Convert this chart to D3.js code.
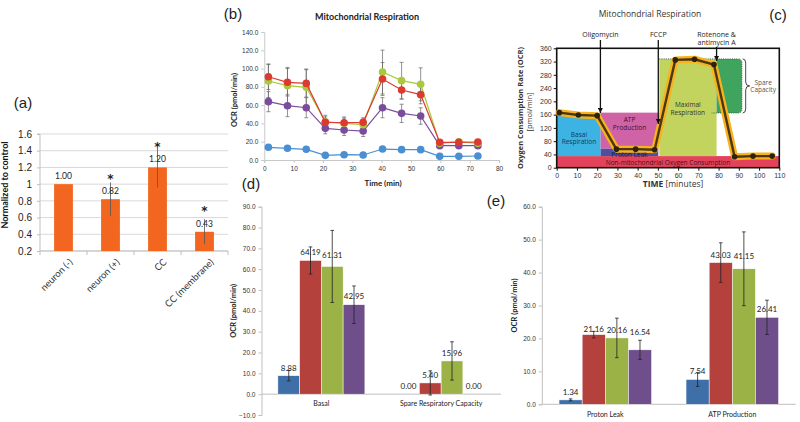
<!DOCTYPE html>
<html><head><meta charset="utf-8">
<script src="https://cdn.jsdelivr.net/npm/d3@7"></script>
<style>
body{margin:0;background:#fff;}
svg{display:block;font-family:Lato,"Liberation Sans",sans-serif;}
</style></head><body>
<svg id="chart" width="800" height="422"></svg>
<script>
// ---------------- Panel (a) data
const aCategories = ["neuron (-)", "neuron (+)", "CC", "CC (membrane)"];
const aValues = [1.00, 0.82, 1.20, 0.43];
const aErrors = [0, 0.20, 0.24, 0.15];
const aStars = ["", "*", "*", "*"];
const aTicks = [0.2, 0.4, 0.6, 0.8, 1, 1.2, 1.4, 1.6];

// ---------------- Panel (b) data
const bTimes = [1.4, 7.9, 14.3, 20.8, 27.2, 33.7, 40.3, 46.8, 53.3, 59.8, 66.3, 72.8];
const bBlue   = [13.9, 12.8, 11.7, 5.1, 5.8, 5.5, 12.0, 11.3, 11.3, 4.0, 4.0, 4.4];
const bPurple = [63.8, 59.4, 57.2, 34.6, 32.8, 31.7, 57.2, 51.0, 48.1, 15.7, 15.7, 15.7];
const bGreen  = [86.4, 81.3, 79.5, 41.9, 40.1, 38.6, 96.2, 86.8, 82.8, 18.2, 20.0, 18.2];
const bRed    = [91.1, 85.0, 83.8, 41.2, 40.8, 41.2, 88.6, 76.6, 71.5, 19.3, 19.3, 19.7];
const bBlueErr   = [2, 2, 2, 1, 1, 1, 2, 2, 2, 1, 1, 1];
const bPurpleErr = [11, 12, 11, 6, 6, 6, 11, 10, 9, 2, 2, 2];
const bGreenErr  = [18, 20, 20, 7, 7, 6, 24, 20, 18, 2, 2, 2];
const bRedErr    = [14, 15, 15, 6, 5, 5, 18, 10, 10, 2, 2, 2];
const bYTicks = [0, 20, 40, 60, 80, 100, 120, 140];
const bXTicks = [0, 10, 20, 30, 40, 50, 60, 70, 80];

// ---------------- Panel (c) data
const cTimes = [1.3, 10.7, 20, 29.5, 39, 48.4, 58.6, 68.1, 77.7, 87.9, 97, 106.5];
const cOCR   = [166, 159, 157, 56, 56, 54, 325, 327, 311, 33, 35, 35];
const cInjectionNames = [["Oligomycin"], ["FCCP"], ["Rotenone &", "antimycin A"]];
const cInjectionTimes = [21.6, 50.2, 79];
const cInjectionTips  = [165, 132, 322];
const cRegionNames = ["Non-mitochondrial Oxygen Consumption", "Basal Respiration", "ATP Production", "Proton Leak", "Maximal Respiration", "Spare Capacity"];
const cRegionT0 = [0, 0, 21.7, 21.7, 50.7, 79];
const cRegionT1 = [110, 21.7, 50.2, 50.2, 79, 91.5];
const cRegionV0 = [0, 35, 57, 35, 35, 165];
const cRegionV1 = [35, 165, 166, 57, 328, 328];
const cYTicks = [0, 40, 80, 120, 160, 200, 240, 280, 320, 360];
const cXTicks = [0, 10, 20, 30, 40, 50, 60, 70, 80, 90, 100, 110];

// ---------------- Panel (d) data
const dCategories = ["Basal", "Spare Respiratory Capacity"];
const dBlue = [8.88, 0.00], dRed = [64.19, 5.40], dGreen = [61.31, 15.96], dPurple = [42.95, 0.00];
const dBlueErr = [2.5, 0], dRedErr = [6.5, 5.8], dGreenErr = [17.3, 9.2], dPurpleErr = [9, 0];
const dYTicks = [-10, 0, 10, 20, 30, 40, 50, 60, 70, 80, 90];

// ---------------- Panel (e) data
const eCategories = ["Proton Leak", "ATP Production"];
const eBlue = [1.34, 7.54], eRed = [21.16, 43.03], eGreen = [20.16, 41.15], ePurple = [16.54, 26.41];
const eBlueErr = [0.3, 2.1], eRedErr = [1.0, 6.0], eGreenErr = [6.0, 11.2], ePurpleErr = [2.9, 5.2];
const eYTicks = [0, 10, 20, 30, 40, 50, 60];

// ---------------- styles / layout
const lineColors = {blue: "#4a8fd2", purple: "#7b4c9b", green: "#a9c93a", red: "#dc3a31"};
const barColors = ["#3e6fa8", "#b5413d", "#9bb246", "#6f4e8c"];
const cRegionColors = ["#e3425a", "#3db3e4", "#d063a6", "#4d4f9f", "#c2d35e", "#3fa45e"];
const dLabelLift = [[0, 0], [0, 0], [3, 0], [1, 0]];
const eLabelLift = [[0, 0], [-2, 0], [0, 5], [10, 0]];

const svg = d3.select("#chart");
const CFONT = "'Open Sans', 'DejaVu Sans', sans-serif";

function styleAxis(g, color, fs, tcol) {
  g.selectAll(".domain").attr("stroke", color);
  g.selectAll(".tick line").attr("stroke", color);
  g.selectAll(".tick text").attr("font-size", fs).attr("fill", tcol || "#333");
}

// panel letters
[["(a)", 23, 108], ["(b)", 233, 19], ["(c)", 778, 20], ["(d)", 251, 189], ["(e)", 496, 206]].forEach(([t, x, y]) => {
  svg.append("text").attr("x", x).attr("y", y).attr("text-anchor", "middle")
    .attr("font-family", "'Liberation Sans', Arial, sans-serif").attr("font-size", 15).attr("fill", "#222").text(t);
});

// ================= Panel (a)
{
  const g = svg.append("g");
  const x = d3.scaleBand().domain(aCategories).range([40, 228]);
  const y = d3.scaleLinear().domain([0.2, 1.6]).range([251, 134]);
  g.selectAll("line.grid").data(aTicks).join("line").attr("class", "grid")
    .attr("x1", 40).attr("x2", 228).attr("y1", d => y(d)).attr("y2", d => y(d)).attr("stroke", "#d9d9d9");
  const ay = g.append("g").attr("transform", "translate(40,0)")
    .call(d3.axisLeft(y).tickValues(aTicks).tickSize(3).tickPadding(5).tickFormat(d => String(+d.toFixed(1))));
  styleAxis(ay, "#bfbfbf", 10, "#222");
  ay.selectAll(".domain").attr("d", `M-3,${y(1.6)}H0V${y(0.2)}`);
  g.append("line").attr("x1", 40).attr("x2", 228).attr("y1", 251).attr("y2", 251).attr("stroke", "#bfbfbf");
  const edges = aCategories.map(c => x(c)).concat([x.range()[1]]);
  g.selectAll("line.xt").data(edges).join("line").attr("class", "xt")
    .attr("x1", d => d).attr("x2", d => d).attr("y1", 251).attr("y2", 255).attr("stroke", "#bfbfbf");
  const bw = x.bandwidth() * 0.4;
  aCategories.forEach((c, i) => {
    const cx = x(c) + x.bandwidth() / 2;
    g.append("rect").attr("x", cx - bw / 2).attr("width", bw).attr("y", y(aValues[i]))
      .attr("height", y(0.2) - y(aValues[i])).attr("fill", "#f2661f");
    if (aErrors[i] > 0) {
      g.append("line").attr("x1", cx).attr("x2", cx).attr("y1", y(aValues[i] + aErrors[i]))
        .attr("y2", y(aValues[i] - aErrors[i])).attr("stroke", "#555").attr("stroke-width", 0.8);
    }
    g.append("text").attr("x", cx).attr("y", y(aValues[i]) - 5).attr("text-anchor", "middle")
      .attr("font-size", 8.5).attr("fill", "#222").text(aValues[i].toFixed(2));
    if (aStars[i]) {
      g.append("text").attr("x", cx).attr("y", y(aValues[i]) - 16.5).attr("text-anchor", "middle")
        .attr("font-family", "'DejaVu Sans', sans-serif")
        .attr("font-size", 12).attr("font-weight", "bold").attr("fill", "#222").text(aStars[i]);
    }
    g.append("text").attr("transform", `translate(${cx + 5},${258}) rotate(-45)`).attr("text-anchor", "end")
      .attr("dy", "0.7em").attr("font-size", 9.5).attr("fill", "#333").text(c);
  });
  g.append("text").attr("transform", `translate(8,${185}) rotate(-90)`).attr("text-anchor", "middle")
    .attr("font-size", 9).attr("font-weight", "bold").attr("fill", "#111").text("Normalized to control");
}

// ================= Panel (b)
{
  const g = svg.append("g");
  const x = d3.scaleLinear().domain([0, 80]).range([264.3, 499]);
  const y = d3.scaleLinear().domain([0, 140]).range([160, 32]);
  const ay = g.append("g").attr("transform", "translate(264.3,0)")
    .call(d3.axisLeft(y).tickValues(bYTicks).tickSize(3).tickPadding(3).tickFormat(d3.format(".1f")));
  styleAxis(ay, "#c8c8c8", 6.5, "#333");
  const ax = g.append("g").attr("transform", "translate(0,160)")
    .call(d3.axisBottom(x).tickValues(bXTicks).tickSize(3).tickPadding(3));
  styleAxis(ax, "#c8c8c8", 6.5, "#333");
  const series = [[bBlue, bBlueErr, lineColors.blue], [bPurple, bPurpleErr, lineColors.purple],
                  [bGreen, bGreenErr, lineColors.green], [bRed, bRedErr, lineColors.red]];
  series.forEach(([vals, errs]) => {
    vals.forEach((v, i) => {
      const cx = x(bTimes[i]);
      g.append("path").attr("d", `M${cx},${y(v + errs[i])}V${y(v - errs[i])}M${cx - 2},${y(v + errs[i])}h4M${cx - 2},${y(v - errs[i])}h4`)
        .attr("stroke", "#666").attr("stroke-width", 0.7).attr("fill", "none");
    });
  });
  const line = d3.line().x((d, i) => x(bTimes[i])).y(d => y(d));
  series.forEach(([vals, errs, col]) => {
    g.append("path").datum(vals).attr("d", line).attr("fill", "none").attr("stroke", col).attr("stroke-width", 1.2);
    g.selectAll(null).data(vals).join("circle").attr("cx", (d, i) => x(bTimes[i])).attr("cy", d => y(d))
      .attr("r", 3.8).attr("fill", col);
  });
  g.append("text").attr("x", 367).attr("y", 20).attr("text-anchor", "middle").attr("font-size", 9)
    .attr("font-weight", "bold").attr("fill", "#222").text("Mitochondrial Respiration");
  g.append("text").attr("x", 383).attr("y", 186).attr("text-anchor", "middle").attr("font-size", 8)
    .attr("font-weight", "bold").attr("fill", "#222").text("Time (min)");
  g.append("text").attr("transform", `translate(237,100) rotate(-90)`).attr("text-anchor", "middle")
    .attr("font-size", 7.5).attr("font-weight", "bold").attr("fill", "#222").text("OCR (pmol/min)");
}

// ================= Panel (c)
{
  const g = svg.append("g").attr("font-family", CFONT);
  const x = d3.scaleLinear().domain([0, 110]).range([556.7, 779.3]);
  const y = d3.scaleLinear().domain([0, 360]).range([167.7, 48.3]);
  const defs = svg.append("defs");
  defs.append("marker").attr("id", "arrowC").attr("viewBox", "0 0 10 10").attr("refX", 10).attr("refY", 5)
    .attr("markerWidth", 4).attr("markerHeight", 4).attr("orient", "auto")
    .append("path").attr("d", "M0,0L10,5L0,10Z").attr("fill", "#111");
  cRegionNames.forEach((n, i) => {
    if (i === 5) return;
    g.append("rect").attr("x", x(cRegionT0[i])).attr("width", x(cRegionT1[i]) - x(cRegionT0[i]))
      .attr("y", y(cRegionV1[i])).attr("height", y(cRegionV0[i]) - y(cRegionV1[i])).attr("fill", cRegionColors[i]);
  });
  {
    const x0 = x(cRegionT0[5]), x1 = x(cRegionT1[5]), yt = y(cRegionV1[5]), yb = y(cRegionV0[5]), r = 4;
    g.append("path").attr("d", `M${x0},${yt}H${x1 - r}Q${x1},${yt} ${x1},${yt + r}V${yb - r}Q${x1},${yb} ${x1 - r},${yb}H${x0}Z`)
      .attr("fill", cRegionColors[5]);
    g.append("path").attr("d", `M${x(cRegionT0[4])},${yt}H${x1 - r}Q${x1},${yt} ${x1},${yt + r}V${yb - r}Q${x1},${yb} ${x1 - r},${yb}H${x(76.6)}`)
      .attr("fill", "none").attr("stroke", "#2d5a35").attr("stroke-width", 0.9).attr("stroke-dasharray", "1,1.2");
    const bx = x(91.9), ym = (yt + yb) / 2;
    g.append("path").attr("d", `M${bx},${yt}Q${bx + 3},${yt} ${bx + 3},${yt + 4}V${ym - 4}Q${bx + 3},${ym} ${bx + 7},${ym}Q${bx + 3},${ym} ${bx + 3},${ym + 4}V${yb - 4}Q${bx + 3},${yb} ${bx},${yb}`)
      .attr("fill", "none").attr("stroke", "#333").attr("stroke-width", 0.9);
  }
  g.append("rect").attr("x", x(0)).attr("y", y(360)).attr("width", x(110) - x(0)).attr("height", y(0) - y(360))
    .attr("fill", "none").attr("stroke", "#111").attr("stroke-width", 1.6);
  const ay = g.append("g").attr("transform", `translate(${x(0)},0)`)
    .call(d3.axisLeft(y).tickValues(cYTicks).tickSize(3).tickPadding(2));
  styleAxis(ay, "#111", 7, "#333");
  ay.select(".domain").remove();
  const ax = g.append("g").attr("transform", `translate(0,${y(0)})`)
    .call(d3.axisBottom(x).tickValues(cXTicks).tickSize(3).tickPadding(2));
  styleAxis(ax, "#111", 7, "#333");
  ax.select(".domain").remove();
  const line = d3.line().x((d, i) => x(cTimes[i])).y(d => y(d));
  g.append("path").datum(cOCR).attr("d", line).attr("fill", "none").attr("stroke", "#f7b21c")
    .attr("stroke-width", 7).attr("stroke-linejoin", "round").attr("stroke-linecap", "round");
  g.append("path").datum(cOCR).attr("d", line).attr("fill", "none").attr("stroke", "#4a3713")
    .attr("stroke-width", 2.4).attr("stroke-linejoin", "round");
  g.selectAll(null).data(cOCR).join("circle").attr("cx", (d, i) => x(cTimes[i])).attr("cy", d => y(d))
    .attr("r", 2.8).attr("fill", "#2c220e");
  const labelPos = [[55, 14], [11, 88], [36, 132], [36, 40], [64.8, 178], [102, 245]];
  const labelLines = [["Non-mitochondrial Oxygen Consumption"], ["Basal", "Respiration"], ["ATP", "Production"],
                      ["Proton Leak"], ["Maximal", "Respiration"], ["Spare", "Capacity"]];
  const labelCols = ["#4b0f1c", "#123a5a", "#3a0f2c", "#14143a", "#333", "#555"];
  labelLines.forEach((lines, i) => {
    const t = g.append("text").attr("x", x(labelPos[i][0])).attr("y", y(labelPos[i][1]))
      .attr("text-anchor", "middle").attr("font-size", 6.5).attr("fill", labelCols[i]);
    lines.forEach((l, k) => t.append("tspan").attr("x", x(labelPos[i][0]))
      .attr("dy", k === 0 ? (lines.length === 1 ? "0.35em" : "-0.25em") : "1.15em").text(l));
  });
  cInjectionNames.forEach((lines, i) => {
    const cx = x(cInjectionTimes[i]);
    const t = g.append("text").attr("x", cx).attr("y", 37).attr("text-anchor", "middle").attr("font-size", 7).attr("fill", "#222");
    lines.forEach((l, k) => t.append("tspan").attr("x", cx).attr("dy", k === 0 ? 0 : "1.1em").text(l));
    const y0 = lines.length > 1 ? 47 : 40;
    g.append("line").attr("x1", cx).attr("x2", cx).attr("y1", y0).attr("y2", y(cInjectionTips[i]))
      .attr("stroke", "#111").attr("stroke-width", 1.3).attr("marker-end", "url(#arrowC)");
  });
  g.append("text").attr("x", 650).attr("y", 17).attr("text-anchor", "middle").attr("font-size", 8.5)
    .attr("fill", "#333").text("Mitochondrial Respiration");
  const tl = g.append("text").attr("x", 673).attr("y", 187).attr("text-anchor", "middle").attr("font-size", 8.5).attr("fill", "#333");
  tl.append("tspan").attr("font-weight", "bold").text("TIME");
  tl.append("tspan").text(" [minutes]");
  g.append("text").attr("transform", `translate(523,108) rotate(-90)`).attr("text-anchor", "middle")
    .attr("font-size", 7.5).attr("font-weight", "bold").attr("fill", "#333").text("Oxygen Consumption Rate (OCR)");
  g.append("text").attr("transform", `translate(532,112) rotate(-90)`).attr("text-anchor", "middle")
    .attr("font-size", 7.5).attr("fill", "#333").text("[pmol/min]");
}

// ================= Panels (d) and (e)
function groupedBars(cats, series, errs, lifts, xRange, yDomain, yRange, ticks, groupW, catLabelY, ylabelX) {
  const g = svg.append("g");
  const x0 = d3.scaleBand().domain(cats).range(xRange);
  const x1 = d3.scaleBand().domain(d3.range(series.length)).range([0, groupW]);
  const y = d3.scaleLinear().domain(yDomain).range(yRange);
  const ay = g.append("g").attr("transform", `translate(${xRange[0]},0)`)
    .call(d3.axisLeft(y).tickValues(ticks).tickSize(3).tickPadding(3).tickFormat(d3.format(".1f")));
  styleAxis(ay, "#bfbfbf", 6.5, "#333");
  g.append("line").attr("x1", xRange[0]).attr("x2", xRange[1]).attr("y1", y(0)).attr("y2", y(0)).attr("stroke", "#bfbfbf");
  cats.forEach((c, ci) => {
    const gx = x0(c) + (x0.bandwidth() - groupW) / 2;
    series.forEach((vals, si) => {
      const v = vals[ci], e = errs[si][ci];
      const bx = gx + x1(si), bw = x1.bandwidth(), cx = bx + bw / 2;
      if (v > 0) g.append("rect").attr("x", bx).attr("width", bw).attr("y", y(v)).attr("height", y(0) - y(v))
        .attr("fill", barColors[si]).attr("stroke", "#fff").attr("stroke-width", 0.5);
      if (e > 0) g.append("path").attr("d", `M${cx},${y(v + e)}V${y(v - e)}M${cx - 1.8},${y(v + e)}h3.6M${cx - 1.8},${y(v - e)}h3.6`)
        .attr("stroke", "#222").attr("stroke-width", 0.8).attr("fill", "none");
      g.append("text").attr("x", cx).attr("y", y(v) - 5 - lifts[si][ci]).attr("text-anchor", "middle")
        .attr("font-size", 8).attr("fill", "#222").text(v.toFixed(2));
    });
    g.append("text").attr("x", x0(c) + x0.bandwidth() / 2).attr("y", catLabelY).attr("dy", "0.35em")
      .attr("text-anchor", "middle").attr("font-size", 7).attr("fill", "#222").text(c);
  });
  g.append("text").attr("transform", `translate(${ylabelX},${(yRange[0] + yRange[1]) / 2}) rotate(-90)`)
    .attr("text-anchor", "middle").attr("font-size", 7.5).attr("font-weight", "bold").attr("fill", "#222").text("OCR (pmol/min)");
}

groupedBars(dCategories, [dBlue, dRed, dGreen, dPurple], [dBlueErr, dRedErr, dGreenErr, dPurpleErr], dLabelLift,
  [261.5, 501], [-10, 90], [415, 206.7], dYTicks, 87, 404, 236);
groupedBars(eCategories, [eBlue, eRed, eGreen, ePurple], [eBlueErr, eRedErr, eGreenErr, ePurpleErr], eLabelLift,
  [541.8, 795.8], [0, 60], [404.3, 206.7], eYTicks, 92.5, 415, 517);
</script>
</body></html>
